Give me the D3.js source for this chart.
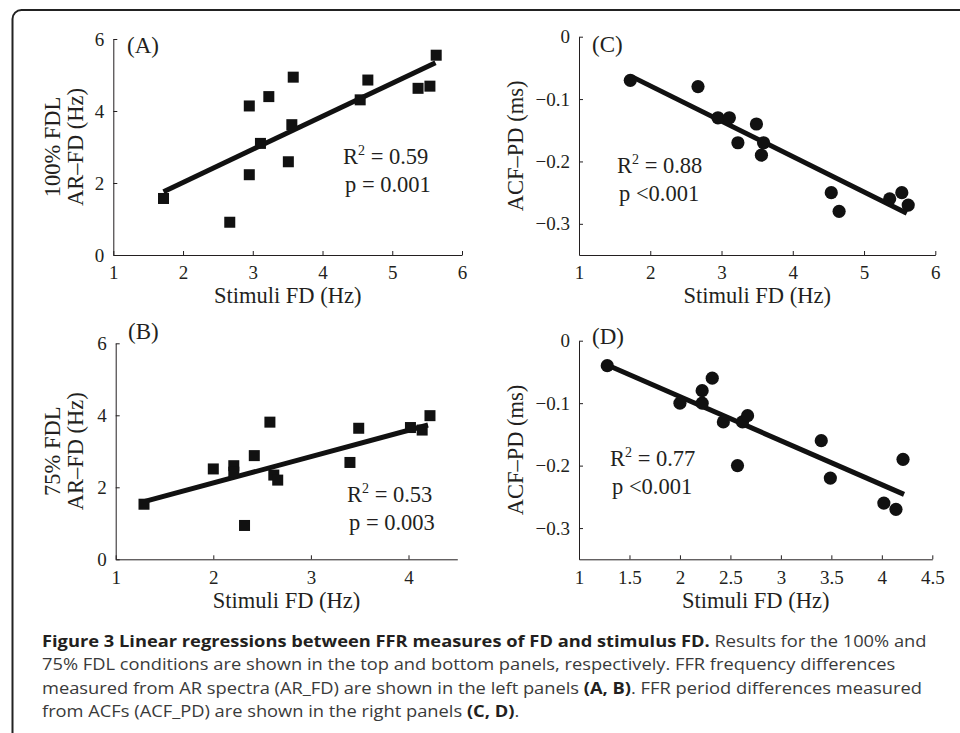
<!DOCTYPE html>
<html>
<head>
<meta charset="utf-8">
<script src="https://cdn.jsdelivr.net/npm/d3@7"></script>
<style>
  body { margin: 0; background: #fff; }
  svg { display: block; }
</style>
</head>
<body>
<div id="vis"></div>
<script>

// (A) 100% FDL, AR-FD vs stimuli FD
const aStim = [1.72, 2.67, 2.95, 2.95, 3.11, 3.23, 3.58, 3.56, 3.51, 4.54, 4.65, 5.37, 5.54, 5.63];
const aArfd = [1.57, 0.91, 4.14, 2.23, 3.10, 4.40, 4.94, 3.62, 2.59, 4.31, 4.86, 4.63, 4.69, 5.55];
const aFit = [[1.72, 1.76], [5.62, 5.34]];

// (B) 75% FDL, AR-FD vs stimuli FD
const bStim = [1.29, 2.00, 2.21, 2.21, 2.32, 2.42, 2.58, 2.62, 2.66, 3.40, 3.49, 4.02, 4.14, 4.22];
const bArfd = [1.53, 2.51, 2.60, 2.42, 0.94, 2.88, 3.81, 2.34, 2.20, 2.69, 3.64, 3.66, 3.59, 3.99];
const bFit = [[1.29, 1.60], [4.20, 3.73]];

// (C) 100% FDL, ACF-PD vs stimuli FD
const cStim = [1.72, 2.67, 2.95, 3.11, 3.23, 3.49, 3.59, 3.56, 4.54, 4.65, 5.36, 5.53, 5.62];
const cAcfpd = [-0.07, -0.08, -0.13, -0.13, -0.17, -0.14, -0.17, -0.19, -0.25, -0.28, -0.26, -0.25, -0.27];
const cFit = [[1.74, -0.064], [5.60, -0.283]];

// (D) 75% FDL, ACF-PD vs stimuli FD
const dStim = [1.28, 2.00, 2.22, 2.22, 2.32, 2.43, 2.57, 2.62, 2.67, 3.40, 3.49, 4.02, 4.14, 4.21];
const dAcfpd = [-0.04, -0.10, -0.08, -0.10, -0.06, -0.13, -0.20, -0.13, -0.12, -0.16, -0.22, -0.26, -0.27, -0.19];
const dFit = [[1.28, -0.039], [4.22, -0.246]];

const ticksFD6 = [1, 2, 3, 4, 5, 6];
const ticksFD45 = [1, 2, 3, 4];
const ticksFDhalf = [1, 1.5, 2, 2.5, 3, 3.5, 4, 4.5];
const ticksHz = [0, 2, 4, 6];
const ticksMs = [0, -0.1, -0.2, -0.3];

const stats = {
    A: ["0.59", "p = 0.001"],
    B: ["0.53", "p = 0.003"],
    C: ["0.88", "p <0.001"],
    D: ["0.77", "p <0.001"]
};

const captionLines = [
    [["Figure 3 Linear regressions between FFR measures of FD and stimulus FD.", true], [" Results for the 100% and", false]],
    [["75% FDL conditions are shown in the top and bottom panels, respectively. FFR frequency differences", false]],
    [["measured from AR spectra (AR_FD) are shown in the left panels ", false], ["(A, B)", true], [". FFR period differences measured", false]],
    [["from ACFs (ACF_PD) are shown in the right panels ", false], ["(C, D)", true], [".", false]]
];

const serif = "'Liberation Serif', 'Times New Roman', serif";
const ink = "#231f20";

const svg = d3.select("#vis").append("svg")
    .attr("width", 960)
    .attr("height", 733);

// frame of the figure box (left + top, rounded corner)
svg.append("path")
    .attr("d", "M12.5,733 V19 A9,9 0 0 1 21.5,10 H960")
    .attr("fill", "none")
    .attr("stroke", "#222")
    .attr("stroke-width", 2);

const panels = [
    { id: "A", xs: aStim, ys: aArfd, fit: aFit, xDom: [1, 6], yDom: [0, 6], xTicks: ticksFD6, yTicks: ticksHz,
      left: 113.3, right: 462, top: 39, bottom: 255, marker: "square",
      ylab: ["100% FDL", "AR\u2013FD (Hz)"], ylabX: [60, 83], statX: 343, statY: 164, tagX: 127, tagY: 52.5, xlabY: 303 },
    { id: "C", xs: cStim, ys: cAcfpd, fit: cFit, xDom: [1, 6], yDom: [-0.35, 0], xTicks: ticksFD6, yTicks: ticksMs,
      left: 579, right: 935.3, top: 36.7, bottom: 255, marker: "circle",
      ylab: ["ACF\u2013PD (ms)"], ylabX: [523], statX: 617, statY: 173, tagX: 592, tagY: 51.5, xlabY: 303 },
    { id: "B", xs: bStim, ys: bArfd, fit: bFit, xDom: [1, 4.5], yDom: [0, 6], xTicks: ticksFD45, yTicks: ticksHz,
      left: 115.7, right: 457.3, top: 343.3, bottom: 559.3, marker: "square",
      ylab: ["75% FDL", "AR\u2013FD (Hz)"], ylabX: [60, 83], statX: 347, statY: 502, tagX: 128, tagY: 339, xlabY: 608 },
    { id: "D", xs: dStim, ys: dAcfpd, fit: dFit, xDom: [1, 4.5], yDom: [-0.35, 0], xTicks: ticksFDhalf, yTicks: ticksMs,
      left: 579, right: 932.3, top: 340.7, bottom: 559.3, marker: "circle",
      ylab: ["ACF\u2013PD (ms)"], ylabX: [523], statX: 610, statY: 466, tagX: 592, tagY: 344, xlabY: 608 }
];

function drawPanel(p) {
    const x = d3.scaleLinear().domain(p.xDom).range([p.left, p.right]);
    const y = d3.scaleLinear().domain(p.yDom).range([p.bottom, p.top]);
    const g = svg.append("g").attr("class", "panel-" + p.id);
    const fmt = d3.format("");

    const xAxis = g.append("g")
        .attr("transform", `translate(0,${p.bottom})`)
        .call(d3.axisBottom(x).tickValues(p.xTicks).tickFormat(fmt)
            .tickSizeInner(-4).tickSizeOuter(0).tickPadding(11));

    const yAxis = g.append("g")
        .attr("transform", `translate(${p.left},0)`)
        .call(d3.axisLeft(y).tickValues(p.yTicks).tickFormat(fmt)
            .tickSizeInner(-4).tickSizeOuter(0).tickPadding(9));

    [xAxis, yAxis].forEach(ax => {
        ax.attr("font-family", serif).attr("font-size", 19);
        ax.select(".domain").attr("stroke", ink);
        ax.selectAll(".tick line").attr("stroke", ink);
        ax.selectAll(".tick text").attr("fill", ink);
    });

    // regression line
    g.append("line")
        .attr("x1", x(p.fit[0][0])).attr("y1", y(p.fit[0][1]))
        .attr("x2", x(p.fit[1][0])).attr("y2", y(p.fit[1][1]))
        .attr("stroke", "#111")
        .attr("stroke-width", 5);

    const pts = p.xs.map((v, i) => ({ x: v, y: p.ys[i] }));
    if (p.marker === "square") {
        g.selectAll("rect.pt").data(pts).enter().append("rect")
            .attr("class", "pt")
            .attr("x", d => x(d.x) - 5.5)
            .attr("y", d => y(d.y) - 5.5)
            .attr("width", 11).attr("height", 11)
            .attr("fill", "#111");
    } else {
        g.selectAll("circle.pt").data(pts).enter().append("circle")
            .attr("class", "pt")
            .attr("cx", d => x(d.x))
            .attr("cy", d => y(d.y))
            .attr("r", 6.6)
            .attr("fill", "#111");
    }

    // axis titles
    g.append("text")
        .attr("x", (p.left + p.right) / 2)
        .attr("y", p.xlabY)
        .attr("text-anchor", "middle")
        .attr("font-family", serif).attr("font-size", 22.5).attr("fill", ink)
        .text("Stimuli FD (Hz)");

    p.ylab.forEach((t, i) => {
        g.append("text")
            .attr("transform", `translate(${p.ylabX[i]},${(p.top + p.bottom) / 2}) rotate(-90)`)
            .attr("text-anchor", "middle")
            .attr("font-family", serif).attr("font-size", 22.5).attr("fill", ink)
            .text(t);
    });

    // panel tag
    g.append("text")
        .attr("x", p.tagX).attr("y", p.tagY)
        .attr("font-family", serif).attr("font-size", 23).attr("fill", ink)
        .text("(" + p.id + ")");

    // stats
    const s = stats[p.id];
    const r2 = g.append("text")
        .attr("x", p.statX).attr("y", p.statY)
        .attr("font-family", serif).attr("font-size", 22.5).attr("fill", ink);
    r2.append("tspan").text("R");
    r2.append("tspan").attr("dy", -9).attr("font-size", 14).text("2");
    r2.append("tspan").attr("dy", 9).text(" = " + s[0]);

    g.append("text")
        .attr("x", p.statX + 2).attr("y", p.statY + 28)
        .attr("font-family", serif).attr("font-size", 22.5).attr("fill", ink)
        .text(s[1]);
}

panels.forEach(drawPanel);

// caption (the source figure's caption type is set slightly wide)
const cap = svg.append("g")
    .attr("transform", "translate(42,0) scale(1.143,1)")
    .attr("font-family", "'Open Sans', 'Noto Sans', sans-serif")
    .attr("font-size", 16);

captionLines.forEach((line, i) => {
    const t = cap.append("text")
        .attr("x", 0)
        .attr("y", 647 + i * 23.3);
    line.forEach(([str, bold]) => {
        t.append("tspan")
            .attr("font-weight", bold ? 700 : 400)
            .attr("fill", bold ? "#231f20" : "#3a3a3a")
            .text(str);
    });
});

</script>
</body>
</html>
